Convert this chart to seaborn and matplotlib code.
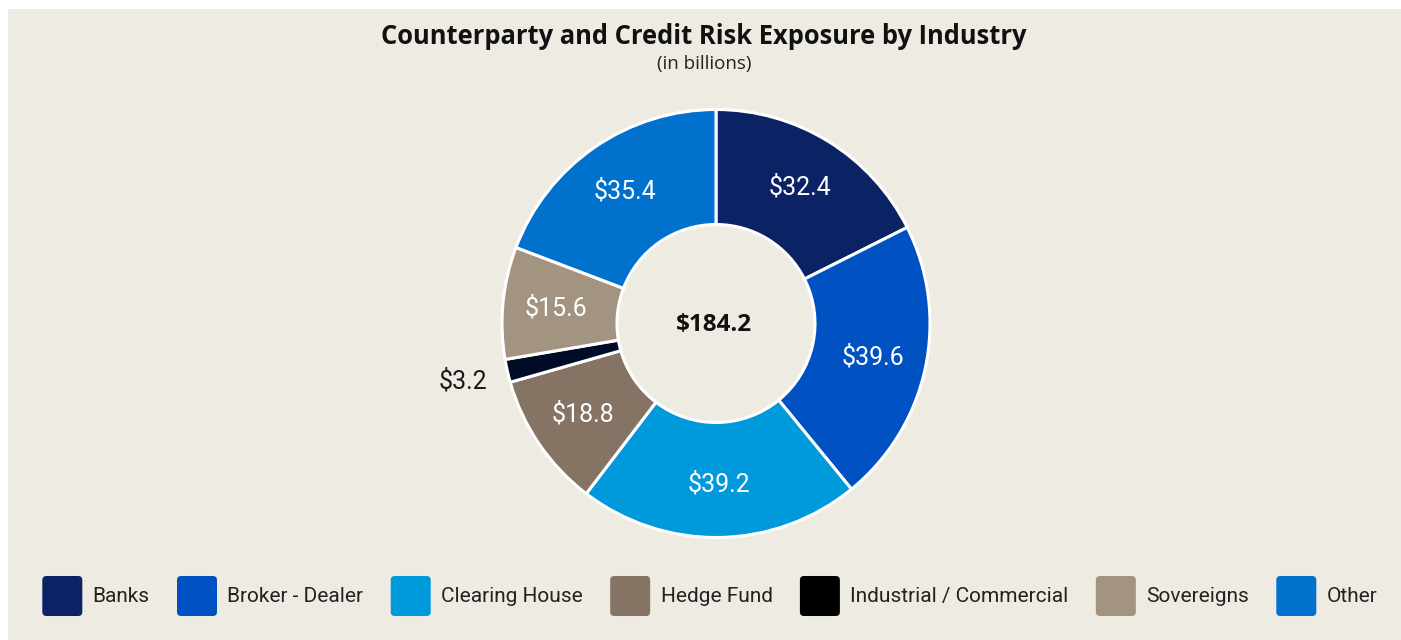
import matplotlib
matplotlib.use("Agg")
import matplotlib.pyplot as plt
import matplotlib.patches as mpatches
from matplotlib.legend_handler import HandlerPatch
import numpy as np
import seaborn as sns

industries = ['Banks', 'Broker - Dealer', 'Clearing House', 'Hedge Fund',
              'Industrial / Commercial', 'Sovereigns', 'Other']
exposure = [32.4, 39.6, 39.2, 18.8, 3.2, 15.6, 35.4]
wedge_colors = ['#0B2265', '#0052C2', '#009ADC', '#857464',
                '#000B27', '#A39482', '#0072CE']
legend_colors = ['#0B2265', '#0052C2', '#009ADC', '#857464',
                 '#000000', '#A39482', '#0072CE']

sns.set_theme(style='white')
plt.rcParams['font.family'] = ['Open Sans', 'DejaVu Sans']
label_font = ['Roboto', 'DejaVu Sans']

W, H = 1401, 640
bg = '#EEEBE2'
fig = plt.figure(figsize=(W / 100, H / 100), dpi=100, facecolor='white')
fig.patches.append(mpatches.Rectangle((8 / W, 0), 1, 1 - 9 / H, transform=fig.transFigure,
                                      facecolor=bg, edgecolor='none', zorder=-5))

ax = fig.add_axes([0, 0, 1, 1])
ax.set_facecolor('none')
palette = sns.color_palette(wedge_colors)
cx, cy, r_out, r_in = 716, H - 323.5, 214, 99
wedges, _ = ax.pie(exposure, colors=palette, startangle=90, counterclock=False,
                   radius=r_out, center=(cx, cy),
                   wedgeprops=dict(width=r_out - r_in, edgecolor='white', linewidth=2.2))
ax.set_xlim(0, W)
ax.set_ylim(0, H)
ax.set_aspect('auto')
ax.axis('off')

# value labels: inside the ring, the tiny slice gets its label outside
for w, v in zip(wedges, exposure):
    ang = np.deg2rad((w.theta1 + w.theta2) / 2)
    if v / sum(exposure) < 0.05:
        d, col = 1.215 * r_out, '#1a1a1a'
    else:
        d, col = 0.75 * r_out, 'white'
    ax.text(cx + d * np.cos(ang), cy + d * np.sin(ang), f'${v:.1f}',
            ha='center', va='center', color=col, fontsize=18, family=label_font)

ax.text(cx - 2, cy - 2, f'${sum(exposure):.1f}', ha='center', va='center',
        fontsize=17.5, fontweight='bold', color='#111111')

fig.text(0.5025, 1 - 44 / H, 'Counterparty and Credit Risk Exposure by Industry',
         ha='center', va='baseline', fontsize=18.4, fontweight='bold', color='#111111')
fig.text(0.5025, 1 - 69 / H, '(in billions)', ha='center', va='baseline',
         fontsize=13.5, color='#222222')


def rounded_box(legend, orig_handle, xdescent, ydescent, width, height, fontsize):
    return mpatches.FancyBboxPatch((-xdescent, -ydescent), width, height,
                                   boxstyle='round,pad=0,rounding_size=3')


handles = [mpatches.Patch(facecolor=c, edgecolor='none', label=l)
           for c, l in zip(sns.color_palette(legend_colors), industries)]
leg = fig.legend(handles=handles, loc='center', bbox_to_anchor=(0.5067, 1 - 596 / H),
                 ncol=7, frameon=False, handlelength=1.92, handleheight=2.58,
                 handletextpad=0.5, columnspacing=1.31,
                 handler_map={mpatches.Patch: HandlerPatch(patch_func=rounded_box)},
                 prop={'family': label_font, 'size': 15})
for t in leg.get_texts():
    t.set_color('#222222')

fig.savefig('out.png', dpi=100, facecolor='white')
